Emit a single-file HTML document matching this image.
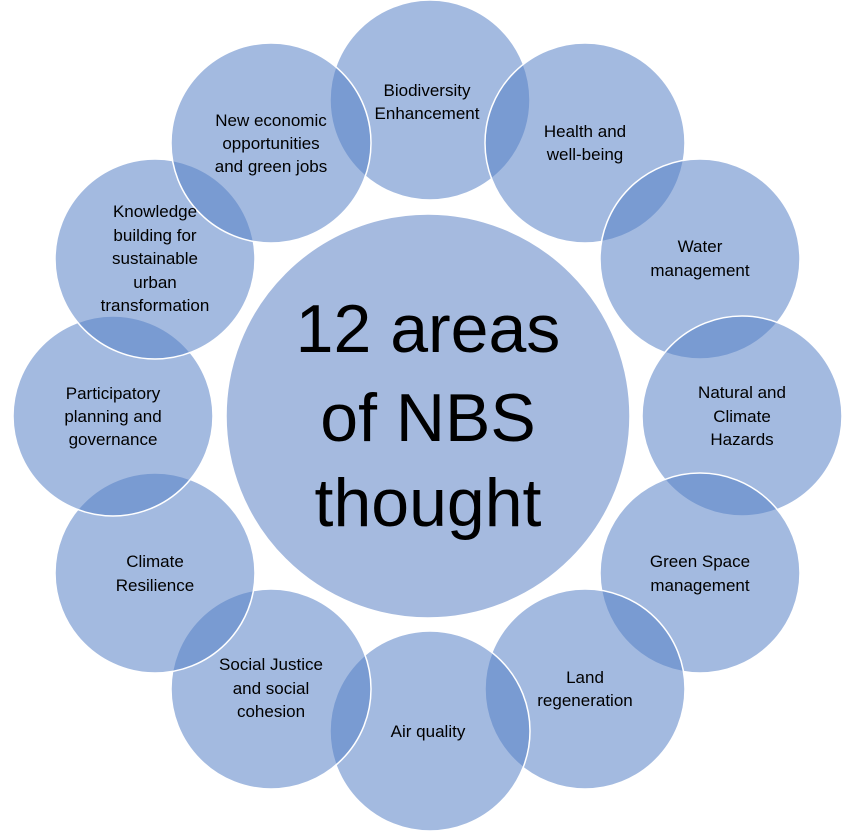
<!DOCTYPE html>
<html><head><meta charset="utf-8"><style>
html,body{margin:0;padding:0;background:#fff;}
svg{display:block;}
text{font-family:"Liberation Sans",sans-serif;fill:#000;text-anchor:middle;}
.s{font-size:17px;}
.b{font-size:68px;}
</style></head><body>
<svg width="855" height="833" viewBox="0 0 855 833" xmlns="http://www.w3.org/2000/svg">
<g fill="rgba(88,130,198,0.55)" stroke="#fff" stroke-width="1.5">
<circle cx="430" cy="100" r="100"/>
<circle cx="585" cy="143" r="100"/>
<circle cx="700" cy="259" r="100"/>
<circle cx="742" cy="416" r="100"/>
<circle cx="700" cy="573" r="100"/>
<circle cx="585" cy="689" r="100"/>
<circle cx="430" cy="731" r="100"/>
<circle cx="271" cy="689" r="100"/>
<circle cx="155" cy="573" r="100"/>
<circle cx="113" cy="416" r="100"/>
<circle cx="155" cy="259" r="100"/>
<circle cx="271" cy="143" r="100"/>
</g>
<circle cx="428" cy="416" r="202" fill="#a5badf" stroke="#fff" stroke-width="1.5"/>
<text class="b" x="428" y="352">12 areas</text>
<text class="b" x="428" y="441">of NBS</text>
<text class="b" x="428" y="526">thought</text>
<g class="s">
<text x="427" y="96">Biodiversity</text><text x="427" y="119">Enhancement</text>
<text x="585" y="137">Health and</text><text x="585" y="160">well-being</text>
<text x="700" y="252">Water</text><text x="700" y="276">management</text>
<text x="742" y="398">Natural and</text><text x="742" y="422">Climate</text><text x="742" y="445">Hazards</text>
<text x="700" y="567">Green Space</text><text x="700" y="591">management</text>
<text x="585" y="683">Land</text><text x="585" y="706">regeneration</text>
<text x="428" y="737">Air quality</text>
<text x="271" y="670">Social Justice</text><text x="271" y="694">and social</text><text x="271" y="717">cohesion</text>
<text x="155" y="567">Climate</text><text x="155" y="591">Resilience</text>
<text x="113" y="399">Participatory</text><text x="113" y="422">planning and</text><text x="113" y="445">governance</text>
<text x="155" y="217">Knowledge</text><text x="155" y="241">building for</text><text x="155" y="264">sustainable</text><text x="155" y="288">urban</text><text x="155" y="311">transformation</text>
<text x="271" y="126">New economic</text><text x="271" y="149">opportunities</text><text x="271" y="172">and green jobs</text>
</g>
</svg>
</body></html>
